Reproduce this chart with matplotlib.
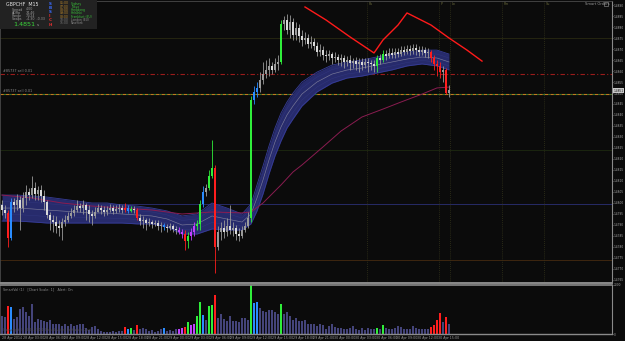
import matplotlib
matplotlib.use('Agg')
import matplotlib.pyplot as plt
from matplotlib.patches import Rectangle
import numpy as np

# ---------------- data ----------------
first_open = 1.47991
closes = [1.47968, 1.47955, 1.47841, 1.48005, 1.47991, 1.48014, 1.47977, 1.48023, 1.48050, 1.48036,
          1.48068, 1.48041, 1.48059, 1.48032, 1.48005, 1.47945, 1.47923, 1.47914, 1.47895, 1.47886,
          1.47914, 1.47923, 1.47941, 1.47955, 1.47968, 1.47986, 1.47977, 1.47991, 1.47968, 1.47950,
          1.47941, 1.47959, 1.47977, 1.47968, 1.47959, 1.47968, 1.47977, 1.47964, 1.47973, 1.47977,
          1.47968, 1.47977, 1.47964, 1.47973, 1.47968, 1.47932, 1.47918, 1.47923, 1.47909, 1.47914,
          1.47905, 1.47909, 1.47895, 1.47900, 1.47891, 1.47886, 1.47895, 1.47882, 1.47877, 1.47868,
          1.47859, 1.47827, 1.47850, 1.47868, 1.47895, 1.47905, 1.47995, 1.48050, 1.48068, 1.48123,
          1.48159, 1.47800, 1.47868, 1.47886, 1.47868, 1.47895, 1.47877, 1.47886, 1.47859, 1.47850,
          1.47877, 1.47895, 1.47932, 1.48468, 1.48505, 1.48523, 1.48559, 1.48586, 1.48605, 1.48623,
          1.48605, 1.48632, 1.48641, 1.48814, 1.48832, 1.48786, 1.48823, 1.48764, 1.48795, 1.48759,
          1.48741, 1.48750, 1.48723, 1.48732, 1.48714, 1.48686, 1.48695, 1.48673, 1.48668, 1.48677,
          1.48659, 1.48664, 1.48650, 1.48659, 1.48641, 1.48650, 1.48636, 1.48645, 1.48632, 1.48641,
          1.48627, 1.48641, 1.48636, 1.48632, 1.48623, 1.48659, 1.48650, 1.48677, 1.48668, 1.48682,
          1.48673, 1.48686, 1.48677, 1.48695, 1.48686, 1.48700, 1.48691, 1.48705, 1.48695, 1.48686,
          1.48695, 1.48682, 1.48686, 1.48659, 1.48632, 1.48623, 1.48595, 1.48605, 1.48500, 1.48514]
highs = [1.48014, 1.47991, 1.47968, 1.48023, 1.48023, 1.48041, 1.48032, 1.48050, 1.48082, 1.48068,
         1.48123, 1.48095, 1.48077, 1.48082, 1.48059, 1.48014, 1.47959, 1.47945, 1.47941, 1.47923,
         1.47932, 1.47945, 1.47959, 1.47977, 1.47991, 1.48014, 1.48000, 1.48014, 1.48000, 1.47991,
         1.47968, 1.47982, 1.47995, 1.47991, 1.47986, 1.47986, 1.47995, 1.47991, 1.47991, 1.47995,
         1.47991, 1.48000, 1.47991, 1.47986, 1.47986, 1.47977, 1.47950, 1.47941, 1.47932, 1.47932,
         1.47923, 1.47923, 1.47923, 1.47914, 1.47909, 1.47905, 1.47909, 1.47905, 1.47895, 1.47891,
         1.47882, 1.47877, 1.47868, 1.47886, 1.47914, 1.47923, 1.48014, 1.48077, 1.48086, 1.48150,
         1.48287, 1.48173, 1.47895, 1.47914, 1.47923, 1.47932, 1.47991, 1.47914, 1.47900, 1.47886,
         1.47895, 1.47914, 1.47959, 1.48486, 1.48532, 1.48550, 1.48595, 1.48641, 1.48650, 1.48659,
         1.48641, 1.48659, 1.48673, 1.48832, 1.48850, 1.48859, 1.48855, 1.48841, 1.48823, 1.48814,
         1.48786, 1.48777, 1.48768, 1.48759, 1.48750, 1.48732, 1.48723, 1.48714, 1.48695, 1.48695,
         1.48686, 1.48686, 1.48677, 1.48677, 1.48673, 1.48668, 1.48673, 1.48659, 1.48664, 1.48659,
         1.48659, 1.48659, 1.48659, 1.48650, 1.48650, 1.48673, 1.48677, 1.48695, 1.48695, 1.48705,
         1.48705, 1.48705, 1.48705, 1.48714, 1.48714, 1.48718, 1.48718, 1.48723, 1.48723, 1.48714,
         1.48714, 1.48709, 1.48705, 1.48695, 1.48673, 1.48650, 1.48641, 1.48623, 1.48614, 1.48536]
lows = [1.47945, 1.47932, 1.47800, 1.47832, 1.47959, 1.47968, 1.47877, 1.47959, 1.47991, 1.48014,
        1.48023, 1.48014, 1.48014, 1.48005, 1.47968, 1.47932, 1.47877, 1.47868, 1.47864, 1.47850,
        1.47832, 1.47895, 1.47914, 1.47932, 1.47941, 1.47959, 1.47959, 1.47950, 1.47923, 1.47914,
        1.47900, 1.47932, 1.47959, 1.47950, 1.47941, 1.47945, 1.47959, 1.47950, 1.47955, 1.47959,
        1.47955, 1.47959, 1.47955, 1.47959, 1.47955, 1.47923, 1.47900, 1.47886, 1.47877, 1.47895,
        1.47886, 1.47895, 1.47877, 1.47868, 1.47877, 1.47868, 1.47877, 1.47868, 1.47859, 1.47859,
        1.47841, 1.47786, 1.47795, 1.47832, 1.47850, 1.47877, 1.47877, 1.47982, 1.48032, 1.48059,
        1.48114, 1.47682, 1.47786, 1.47832, 1.47841, 1.47850, 1.47859, 1.47850, 1.47832, 1.47827,
        1.47841, 1.47868, 1.47886, 1.47914, 1.48450, 1.48482, 1.48505, 1.48541, 1.48568, 1.48577,
        1.48586, 1.48595, 1.48605, 1.48632, 1.48786, 1.48768, 1.48750, 1.48741, 1.48741, 1.48732,
        1.48714, 1.48723, 1.48705, 1.48705, 1.48695, 1.48668, 1.48668, 1.48650, 1.48641, 1.48650,
        1.48632, 1.48641, 1.48627, 1.48623, 1.48614, 1.48623, 1.48605, 1.48614, 1.48605, 1.48595,
        1.48605, 1.48614, 1.48595, 1.48605, 1.48595, 1.48595, 1.48632, 1.48641, 1.48650, 1.48659,
        1.48659, 1.48659, 1.48664, 1.48668, 1.48673, 1.48677, 1.48673, 1.48677, 1.48673, 1.48668,
        1.48673, 1.48664, 1.48659, 1.48641, 1.48605, 1.48577, 1.48568, 1.48550, 1.48495, 1.48482]
# bar class used by the indicator colouring (n normal, r red, g green, b blue, m magenta)
kinds = ("nnrbnnnnnn" "nnnnnnnnnn" "nnnnnnnnnn" "nnnnnnnnnn" "nrbgnrnnnn"
         "nnnnbnnnnm" "mrgmmggbng" "grnnnnnnnn" "nnngbbnnnn" "nnngnnnnnn"
         "nnnnnnnnnn" "nnnnnnnnnn" "nnnnngngnn" "nnnnnnnnnn" "nnnrrrrnrn")
volumes = [720, 680, 1120, 1080, 600, 680, 1000, 1080, 880, 720,
           1200, 480, 600, 560, 520, 480, 560, 400, 400, 400,
           320, 400, 320, 400, 320, 360, 400, 400, 240, 160,
           280, 320, 200, 120, 80, 80, 80, 120, 80, 120,
           120, 280, 200, 240, 160, 360, 200, 240, 200, 120,
           160, 80, 120, 200, 240, 120, 160, 120, 200, 200,
           240, 280, 480, 360, 400, 720, 1280, 760, 560, 1120,
           1160, 1560, 640, 800, 600, 520, 720, 520, 520, 480,
           640, 640, 560, 1960, 1240, 1280, 1040, 920, 880, 960,
           960, 880, 800, 1200, 800, 880, 720, 560, 640, 520,
           520, 560, 400, 400, 400, 320, 400, 360, 200, 320,
           400, 280, 240, 240, 200, 200, 240, 320, 200, 160,
           240, 160, 240, 200, 200, 240, 200, 360, 240, 200,
           200, 240, 320, 280, 200, 200, 200, 320, 240, 200,
           200, 200, 200, 280, 360, 560, 840, 480, 680, 400]

# moving-average ribbon (bar index, upper, lower)
band_idx = [0, 5, 10, 15, 20, 25, 30, 35, 40, 45, 50, 55, 60, 65, 70, 75, 80, 83, 85, 87,
            89, 91, 93, 95, 97, 100, 105, 110, 115, 120, 125, 130, 135, 140, 145, 149]
band_hi = [1.48036, 1.48036, 1.48032, 1.48027, 1.48018, 1.48009, 1.48000, 1.48000, 1.47991, 1.47986,
           1.47977, 1.47964, 1.47941, 1.47950, 1.48000, 1.47977, 1.47950, 1.47995, 1.48082, 1.48168,
           1.48259, 1.48341, 1.48409, 1.48459, 1.48500, 1.48550, 1.48595, 1.48627, 1.48641, 1.48650,
           1.48664, 1.48677, 1.48686, 1.48695, 1.48695, 1.48677]
band_lo = [1.47918, 1.47918, 1.47914, 1.47909, 1.47909, 1.47909, 1.47909, 1.47909, 1.47909, 1.47905,
           1.47905, 1.47891, 1.47859, 1.47859, 1.47882, 1.47877, 1.47877, 1.47905, 1.47964, 1.48041,
           1.48132, 1.48214, 1.48282, 1.48341, 1.48382, 1.48441, 1.48505, 1.48545, 1.48568, 1.48577,
           1.48591, 1.48605, 1.48623, 1.48632, 1.48623, 1.48605]
# slow moving average
ma_idx = [0, 10, 20, 30, 40, 50, 60, 70, 80, 83, 87, 90, 93, 97, 100, 107, 113, 120, 127, 133, 140, 145, 149]
ma_val = [1.48036, 1.48023, 1.48000, 1.47986, 1.47977, 1.47968, 1.47950, 1.47959, 1.47955, 1.47959,
          1.48000, 1.48041, 1.48082, 1.48141, 1.48173, 1.48255, 1.48327, 1.48391, 1.48427, 1.48459,
          1.48495, 1.48523, 1.48527]
# red projection line
red_idx = [101, 108, 116, 124, 127, 132, 135, 143, 149, 155, 160]
red_val = [1.48891, 1.48832, 1.48755, 1.48682, 1.48741, 1.48809, 1.48864, 1.48809, 1.48750, 1.48695, 1.48645]

order_levels = [1.48586, 1.48495]
order_labels = ["#85737 sell 0.01", "#85737 sell 0.01"]
blue_level = 1.47995
brown_level = 1.47741
olive_levels = [1.48750, 1.48241]
marker_idx = [121.7, 145.7, 149.3, 166.7, 180.7]
marker_labels = ["Pa", "P", "Lo", "Pm", "Su"]
last_price = 1.4851
price_ticks = [round(1.4765 + 0.0005 * k, 4) for k in range(26)]
date_labels = ["28 Apr 2014", "28 Apr 03:00", "28 Apr 06:00", "28 Apr 09:00", "28 Apr 12:00",
               "28 Apr 15:00", "28 Apr 18:00", "28 Apr 21:00", "29 Apr 00:00", "29 Apr 03:00",
               "29 Apr 06:00", "29 Apr 09:00", "29 Apr 12:00", "29 Apr 15:00", "29 Apr 18:00",
               "29 Apr 21:00", "30 Apr 00:00", "30 Apr 03:00", "30 Apr 06:00", "30 Apr 09:00",
               "30 Apr 12:00", "30 Apr 15:00"]
bars_per_label = 6.9167

# ---------------- figure ----------------
W, H = 625, 341
BG = '#0b0b0b'
fig = plt.figure(figsize=(6.25, 3.41), dpi=100)
fig.patch.set_facecolor(BG)
plt.rcParams['font.family'] = ['DejaVu Sans']

def fy(py):
    return 1 - py / H

ax = fig.add_axes([0, fy(282.5), 612 / W, (282.5 - 1) / H])
axv = fig.add_axes([0, fy(334), 612 / W, (334 - 284.5) / H])
for a in (ax, axv):
    a.set_facecolor(BG)
    a.set_xlim(-2 / 3, 610 / 3)
    a.set_xticks([])
    for s in ('left', 'top'):
        a.spines[s].set_color('#4a4a4a')
        a.spines[s].set_linewidth(0.6)
    a.spines['right'].set_color('#8a8a8a')
    a.spines['right'].set_linewidth(0.8)
    a.spines['bottom'].set_color('#8a8a8a')
    a.spines['bottom'].set_linewidth(1.0)
ax.spines['bottom'].set_linewidth(1.4)
axv.spines['top'].set_color('#8a8a8a')
axv.spines['top'].set_linewidth(1.2)

ax.set_ylim(1.476386, 1.489182)
ax.yaxis.tick_right()
ax.set_yticks(price_ticks)
ax.set_yticklabels([f"{t:.4f}" for t in price_ticks])
ax.tick_params(axis='y', colors='#a8a8a8', labelsize=2.1, length=1.0, width=0.4, pad=0.5)

# horizontal levels
ax.axhline(olive_levels[0], color='#2a2a12', lw=0.6, zorder=1)
ax.axhline(olive_levels[1], color='#1e2a10', lw=0.6, zorder=1)
ax.axhline(blue_level, color='#262a66', lw=0.7, zorder=1)
ax.axhline(brown_level, color='#3e2610', lw=0.7, zorder=1)
ax.axhline(order_levels[0], color='#9a1c1c', lw=0.8, ls=(0, (4, 2, 1, 2)), zorder=1)
ax.axhline(order_levels[1], color='#c07a20', lw=0.8, ls=(0, (3, 2)), gapcolor='#2f7a2f', zorder=1)
for lv, lb in zip(order_levels, order_labels):
    ax.text(0.3, lv + 0.00007, lb, fontsize=2.4, color='#8a8a8a', va='bottom', ha='left')

# session markers
for mi, ml in zip(marker_idx, marker_labels):
    ax.axvline(mi, color='#34341a', lw=0.6, ls=(0, (1, 1.5)), zorder=1)
    ax.text(mi + 0.6, 1.48905, ml, fontsize=2.4, color='#6a6a3a', va='center', ha='left')

# ribbon
bi = np.array(band_idx)
bh = np.array(band_hi)
bl = np.array(band_lo)
ax.fill_between(bi, bl, bh, color='#272b6c', lw=0, zorder=2)
ax.plot(bi, bh, color='#363c96', lw=0.6, zorder=3)
ax.plot(bi, bl, color='#363c96', lw=0.6, zorder=3)
for f in (0.25, 0.75):
    ax.plot(bi, bl + f * (bh - bl), color='#31367e', lw=0.35, zorder=3)
ax.plot(bi, bl + 0.5 * (bh - bl), color='#7c7c9a', lw=0.45, zorder=3)

# slow MA
ax.plot(ma_idx, ma_val, color='#8a1c50', lw=0.7, zorder=3)

# candles
PAL = {'r': '#ff1e1e', 'g': '#2fee3a', 'b': '#2a8cff', 'm': '#c040ff'}
n = len(closes)
idx = np.arange(n)
o = np.array([first_open] + closes[:-1])
c = np.array(closes)
h = np.array(highs)
l = np.array(lows)
body_cols, wick_cols = [], []
for k, oo, cc in zip(kinds, o, c):
    if k == 'n':
        body_cols.append('#dadada' if cc <= oo else '#9a9a9a')
        wick_cols.append('#9a9a9a')
    else:
        body_cols.append(PAL[k])
        wick_cols.append(PAL[k])
ax.vlines(idx, l, h, colors=wick_cols, lw=0.6, zorder=4)
ax.bar(idx, np.maximum(np.abs(c - o), 0.00003), bottom=np.minimum(o, c), width=0.62,
       color=body_cols, lw=0, zorder=5)

# red line
ax.plot(red_idx, red_val, color='#ff1a1a', lw=1.0, zorder=6)

# current price tag
ax.annotate(f"{last_price:.4f}", xy=(1.0, last_price), xycoords=('axes fraction', 'data'),
            xytext=(1.0, 0), textcoords='offset points', fontsize=2.1, color='#111111',
            va='center', ha='left', annotation_clip=False,
            bbox=dict(boxstyle='square,pad=0.2', fc='#c8c8c8', ec='none'))

# volume panel
VPAL = {'n': '#44447a', 'r': '#ff1e1e', 'g': '#2fee3a', 'b': '#2a8cff', 'm': '#c040ff'}
vcols = [VPAL[k] for k in kinds]
vwid = [0.4 if k == 'n' else 0.6 for k in kinds]
axv.bar(idx, volumes, width=vwid, color=vcols, lw=0)
axv.set_ylim(0, 2000)
axv.yaxis.tick_right()
axv.set_yticks([0, 2000])
axv.set_yticklabels(['0', '2000'])
axv.tick_params(axis='y', colors='#a8a8a8', labelsize=2.1, length=1.0, width=0.4, pad=0.5)

def T(x, y, s, size=2.5, color='#a0a0a0', ha='left', **kw):
    fig.text(x / W, 1 - y / H, s, fontsize=size, color=color, va='center', ha=ha, zorder=4, **kw)

T(3, 289, "SmartVol (1)   [Chart Scale: 1]   Alert: On", 2.4, '#8a8a8a')
T(3, 330, "Copyright \u00a9 2005-2014, MetaQuotes Software Corp.", 2.4, '#4e4e4e')
for k, lab in enumerate(date_labels):
    px = 2 + 3 * (k * bars_per_label)
    T(px, 338, lab, 2.3, '#9a9a9a')

# top-right
T(585, 4, "Smart Orders", 2.6, '#9a9a9a')
fig.add_artist(Rectangle((604 / W, 1 - 6 / H), 4 / W, 4 / H, transform=fig.transFigure,
                         fill=False, ec='#9a9a9a', lw=0.4, zorder=4))

# info panel
fig.add_artist(Rectangle((0, 1 - 29 / H), 97 / W, 29 / H, transform=fig.transFigure,
                         fc='#222222', ec='none', zorder=2))
T(6, 5, "GBPCHF  M15", 3.4, '#e6e6e6')
rows = [("Spread", "4.00"), ("ADRp", "74.46"), ("Range", "71/24"), ("Swaps", "-4.30  -0.33")]
for j, (a, b) in enumerate(rows):
    T(12, 9.5 + 3.2 * j, a, 2.3, '#9a9a9a')
    T(26, 9.5 + 3.2 * j, b, 2.3, '#9a9a9a')
T(13, 24.5, "1.4851", 4.6, '#3ad63a')
T(37, 25.5, "s", 3.0, '#9a9a9a')
letters = [("S", '#3a6cff'), ("B", '#3a6cff'), ("S", '#3a6cff'), ("I", '#e03030'), ("C", '#e03030'), ("H", '#e03030')]
for j, (s, col) in enumerate(letters):
    T(49, 4 + 4.1 * j, s, 3.0, col, fontweight='bold')
sessions = [("05:00", "Sydney"), ("07:00", "Tokyo"), ("08:00", "Hongkong"), ("09:00", "Helsinki"),
            ("08:00", "Frankfurt (EU)"), ("10:00", "London (EU)"), ("15:00", "NewYork")]
for j, (t, nm) in enumerate(sessions):
    tc = '#c08a2a' if j < 5 else '#7a7a7a'
    nc = '#3ac23a' if j < 5 else '#8a8a8a'
    T(60, 3.5 + 3.3 * j, t, 2.2, tc)
    T(71, 3.5 + 3.3 * j, nm, 2.2, nc)

fig.savefig('out.png', dpi=100, facecolor=BG)
